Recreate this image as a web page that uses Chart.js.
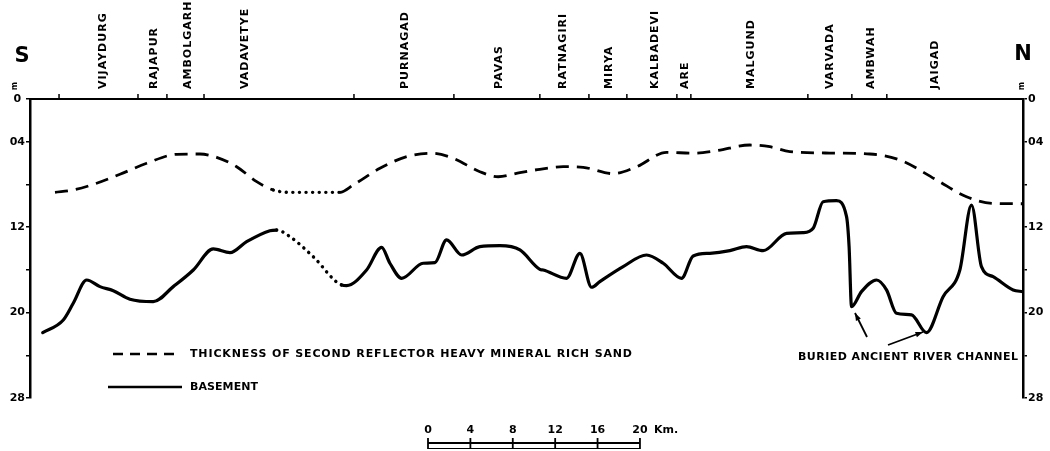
<!DOCTYPE html>
<html>
<head>
<meta charset="utf-8">
<script src="https://cdn.jsdelivr.net/npm/chart.js@4.4.0/dist/chart.umd.min.js"></script>
<style>
body{margin:0;background:#fff;}
canvas{display:block;}
</style>
</head>
<body>
<canvas id="profile" width="1050" height="451"></canvas>
<script>
// distance along the coast from the south end (km) and depth below sea bed (m)
var thickKm    = [2.36, 4.08, 6.29, 8.49, 11.01, 13.84, 16.04, 17.61, 19.5, 21.39, 22.95, 24.53, 29.25, 30.5, 33.02, 35.54, 37.9, 39.93, 42.45, 44.18, 46.23, 48.11, 50.31, 52.2, 55.03, 57.24, 60.07, 62.58, 64.78, 67.92, 69.81, 71.7, 75.47, 79.25, 82.08, 85.54, 88.37, 90.85, 93.68];
var thickDepth = [8.74, 8.52, 7.89, 7.05, 6.02, 5.18, 5.15, 5.46, 6.34, 7.74, 8.52, 8.74, 8.74, 8.05, 6.49, 5.4, 5.08, 5.55, 6.81, 7.28, 6.9, 6.58, 6.34, 6.4, 6.99, 6.34, 4.99, 5.08, 4.84, 4.31, 4.47, 4.93, 5.06, 5.15, 5.71, 7.58, 9.15, 9.77, 9.81];

var baseKm    = [1.2, 3.14, 4.08, 5.35, 6.6, 7.86, 9.43, 11.63, 13.52, 15.41, 17.29, 18.87, 20.44, 22.64, 23.27, 24.53, 26.73, 29.41, 29.88, 31.76, 33.18, 33.96, 35.07, 37.1, 38.21, 39.31, 40.73, 42.45, 44.34, 46.23, 48.11, 48.43, 50.63, 51.89, 52.99, 53.77, 55.97, 58.18, 59.75, 61.48, 62.58, 64.15, 66.04, 67.61, 69.18, 71.39, 72.95, 73.9, 74.84, 76.1, 77.05, 77.29, 77.52, 78.46, 79.88, 80.82, 81.76, 83.18, 84.59, 86.16, 87.74, 88.84, 89.78, 90.88, 92.77, 93.68];
var baseDepth = [21.88, 20.69, 19.13, 16.95, 17.57, 17.95, 18.75, 18.98, 17.57, 16.01, 14.04, 14.39, 13.36, 12.33, 12.27, 12.89, 14.77, 17.42, 17.48, 16.01, 13.89, 15.38, 16.79, 15.38, 15.33, 13.2, 14.61, 13.83, 13.74, 14.14, 15.95, 16.01, 16.79, 14.45, 17.63, 17.1, 15.7, 14.61, 15.38, 16.79, 14.7, 14.45, 14.2, 13.83, 14.2, 12.58, 12.52, 12.11, 9.62, 9.52, 11.02, 13.83, 19.45, 18.04, 16.95, 17.88, 20.07, 20.22, 21.88, 18.51, 16.01, 9.93, 15.7, 16.64, 17.88, 18.04];

// stretches drawn dotted (inferred)
var thickDotted = [22.9, 29.3];
var baseDotted  = [23.2, 29.5];

var placeNames = ['VIJAYDURG', 'RAJAPUR', 'AMBOLGARH', 'VADAVETYE', 'PURNAGAD', 'PAVAS', 'RATNAGIRI', 'MIRYA', 'KALBADEVI', 'ARE', 'MALGUND', 'VARVADA', 'AMBWAH', 'JAIGAD'];
var placeKm    = [6.86, 11.7, 14.93, 20.28, 35.38, 44.25, 50.31, 54.62, 58.96, 61.79, 68.08, 75.47, 79.4, 85.38];
var placeMarks = [2.74, 10.19, 12.92, 16.42, 30.57, 40.0, 48.11, 52.74, 56.32, 61.04, 62.36, 73.4, 77.55, 80.85];

var depthLabels = ['0', '04', '', '12', '', '20', '', '28'];
var scaleBarKm  = [0, 4, 8, 12, 16, 20];

function toPoints(xs, ys) {
    var pts = [];
    for (var i = 0; i < xs.length; i++) pts.push({x: xs[i], y: ys[i]});
    return pts;
}
function inRange(ctx, range) {
    return ctx.p0.parsed.x >= range[0] && ctx.p1.parsed.x <= range[1];
}

var boldFont = '"DejaVu Sans", "Liberation Sans", sans-serif';

// stretch a line of text to a given width with letter spacing
function fitText(ctx, text, x, y, width) {
    ctx.letterSpacing = '0px';
    var w = ctx.measureText(text).width;
    ctx.letterSpacing = Math.max(0, (width - w) / (text.length - 1)) + 'px';
    ctx.fillText(text, x, y);
    ctx.letterSpacing = '0px';
}

var decorations = {
    id: 'decorations',
    afterDraw: function(chart) {
        var ctx = chart.ctx;
        var xs = chart.scales.x;
        var top = chart.chartArea.top;
        ctx.save();
        ctx.fillStyle = '#000';
        ctx.strokeStyle = '#000';

        // small place marks on the coast line
        ctx.lineWidth = 1.5;
        placeMarks.forEach(function(km) {
            var px = xs.getPixelForValue(km);
            ctx.beginPath();
            ctx.moveTo(px, top - 5);
            ctx.lineTo(px, top);
            ctx.stroke();
        });

        // place names, rotated
        ctx.font = 'bold 11px ' + boldFont;
        ctx.letterSpacing = '1px';
        ctx.textAlign = 'left';
        ctx.textBaseline = 'middle';
        placeNames.forEach(function(name, i) {
            ctx.save();
            ctx.translate(xs.getPixelForValue(placeKm[i]), 89);
            ctx.rotate(-Math.PI / 2);
            ctx.fillText(name, 0, 0);
            ctx.restore();
        });
        ctx.letterSpacing = '0px';

        // unit marks
        ctx.font = 'bold 8px ' + boldFont;
        [[15, 86], [1022, 86]].forEach(function(p) {
            ctx.save();
            ctx.translate(p[0], p[1]);
            ctx.rotate(-Math.PI / 2);
            ctx.textAlign = 'center';
            ctx.fillText('m', 0, 0);
            ctx.restore();
        });

        // S / N
        ctx.font = 'bold 21px ' + boldFont;
        ctx.textAlign = 'center';
        ctx.fillText('S', 22, 57);
        ctx.fillText('N', 1023, 55);

        // legend
        ctx.lineWidth = 2.5;
        ctx.setLineDash([10, 7]);
        ctx.beginPath();
        ctx.moveTo(113, 354);
        ctx.lineTo(174, 354);
        ctx.stroke();
        ctx.setLineDash([]);
        ctx.beginPath();
        ctx.moveTo(108, 387);
        ctx.lineTo(182, 387);
        ctx.stroke();
        ctx.font = 'bold 11px ' + boldFont;
        ctx.textAlign = 'left';
        fitText(ctx, 'THICKNESS OF SECOND REFLECTOR HEAVY MINERAL RICH SAND', 190, 354, 442);
        fitText(ctx, 'BASEMENT', 190, 387, 68);
        fitText(ctx, 'BURIED ANCIENT RIVER CHANNEL', 798, 357, 220);

        // arrows to the channel
        function arrow(x0, y0, x1, y1) {
            var a = Math.atan2(y1 - y0, x1 - x0);
            ctx.lineWidth = 1.8;
            ctx.beginPath();
            ctx.moveTo(x0, y0);
            ctx.lineTo(x1, y1);
            ctx.stroke();
            ctx.beginPath();
            ctx.moveTo(x1, y1);
            ctx.lineTo(x1 - 8 * Math.cos(a - 0.35), y1 - 8 * Math.sin(a - 0.35));
            ctx.lineTo(x1 - 8 * Math.cos(a + 0.35), y1 - 8 * Math.sin(a + 0.35));
            ctx.closePath();
            ctx.fill();
        }
        arrow(867, 337, 855, 313);
        arrow(888, 345, 923, 332);

        // scale bar
        var x0 = 428;
        var unit = xs.getPixelForValue(1) - xs.getPixelForValue(0);
        var xEnd = x0 + unit * scaleBarKm[scaleBarKm.length - 1];
        ctx.lineWidth = 2;
        ctx.beginPath();
        ctx.moveTo(x0, 443);
        ctx.lineTo(xEnd, 443);
        ctx.stroke();
        ctx.lineWidth = 1;
        ctx.beginPath();
        ctx.moveTo(x0, 448.5);
        ctx.lineTo(xEnd, 448.5);
        ctx.stroke();
        ctx.font = 'bold 11px ' + boldFont;
        ctx.textAlign = 'center';
        scaleBarKm.forEach(function(km) {
            var px = x0 + unit * km;
            ctx.lineWidth = 1.8;
            ctx.beginPath();
            ctx.moveTo(px, 438);
            ctx.lineTo(px, 449);
            ctx.stroke();
            ctx.fillText(String(km), px, 430);
        });
        ctx.textAlign = 'left';
        ctx.fillText('Km.', xEnd + 14, 430);
        ctx.restore();
    }
};

var chartdata = {
    datasets: [
        {
            label: 'THICKNESS OF SECOND REFLECTOR HEAVY MINERAL RICH SAND',
            data: toPoints(thickKm, thickDepth),
            borderColor: '#000',
            borderWidth: 2.8,
            borderDash: [13, 8],
            pointRadius: 0,
            cubicInterpolationMode: 'monotone',
            segment: {
                borderDash: function(ctx) { return inRange(ctx, thickDotted) ? [0.1, 6.5] : [13, 8]; },
                borderCapStyle: function(ctx) { return inRange(ctx, thickDotted) ? 'round' : 'butt'; },
                borderWidth: function(ctx) { return inRange(ctx, thickDotted) ? 3.4 : 2.8; }
            }
        },
        {
            label: 'BASEMENT',
            data: toPoints(baseKm, baseDepth),
            borderColor: '#000',
            borderWidth: 3.2,
            pointRadius: 0,
            cubicInterpolationMode: 'monotone',
            borderCapStyle: 'round',
            borderJoinStyle: 'round',
            segment: {
                borderDash: function(ctx) { return inRange(ctx, baseDotted) ? [0.1, 6.5] : []; },
                borderWidth: function(ctx) { return inRange(ctx, baseDotted) ? 3.4 : 3.2; }
            }
        }
    ]
};

var tickFont = {family: boldFont, size: 11, weight: 'bold'};

var options = {
    responsive: false,
    animation: false,
    layout: {padding: {left: 0, right: 0, top: 0, bottom: 53}},
    plugins: {legend: {display: false}, tooltip: {enabled: false}},
    scales: {
        x: {
            type: 'linear',
            position: 'top',
            min: 0,
            max: 93.7,
            grid: {display: false},
            border: {display: true, color: '#000', width: 2},
            ticks: {display: false},
            afterFit: function(scale) { scale.height = 99; }
        },
        y: {
            position: 'left',
            reverse: true,
            min: 0,
            max: 28,
            grid: {display: true, drawOnChartArea: false, tickLength: 4, color: '#000', lineWidth: 1.5},
            border: {display: true, color: '#000', width: 2.5},
            ticks: {
                stepSize: 4,
                color: '#000',
                font: tickFont,
                padding: 1,
                crossAlign: 'center',
                callback: function(v) { return depthLabels[Math.round(v / 4)]; }
            },
            afterFit: function(scale) { scale.width = 30; }
        },
        y2: {
            position: 'right',
            reverse: true,
            min: 0,
            max: 28,
            grid: {display: true, drawOnChartArea: false, tickLength: 4, color: '#000', lineWidth: 1.5},
            border: {display: true, color: '#000', width: 2.5},
            ticks: {
                stepSize: 4,
                color: '#000',
                font: tickFont,
                padding: 1,
                callback: function(v) { return depthLabels[Math.round(v / 4)]; }
            },
            afterFit: function(scale) { scale.width = 27; }
        }
    }
};

var chart = new Chart(document.getElementById('profile'), {
    type: 'line',
    data: chartdata,
    options: options,
    plugins: [decorations]
});
</script>
</body>
</html>
